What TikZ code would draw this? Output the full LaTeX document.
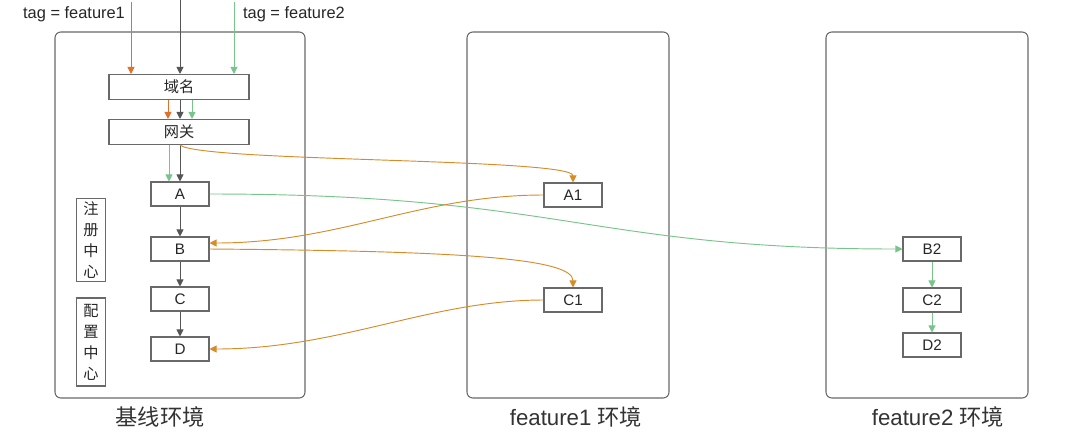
\documentclass[tikz,border=0pt]{standalone}
\usepackage{fontspec}
\setmainfont{Liberation Sans}
\newfontfamily\cjk{Noto Sans CJK SC}
\usepackage{tikz}
\usetikzlibrary{positioning, arrows.meta, calc}
\definecolor{lngray}{RGB}{85,85,85}
\definecolor{bxgray}{RGB}{105,105,105}
\definecolor{tagorg}{RGB}{226,112,38}
\definecolor{crvorg}{RGB}{214,140,40}
\definecolor{taggrn}{RGB}{120,196,138}
\tikzset{
  envbox/.style  = {draw=bxgray, line width=0.9pt, rounded corners=5pt},
  svcbox/.style  = {draw=bxgray, line width=0.9pt, fill=white,
                    minimum width=17.4mm, minimum height=7.2mm,
                    inner sep=0pt, text=black!85,
                    font=\fontsize{13}{15}\selectfont},
  gwbox/.style   = {svcbox, minimum width=42mm, minimum height=7.5mm,
                    font=\fontsize{13}{15}\selectfont\cjk},
  vbox/.style    = {draw=bxgray, line width=0.9pt, minimum width=8.7mm,
                    inner sep=0pt, align=center, text=black!85,
                    font=\fontsize{13}{18}\selectfont\cjk},
  envlabel/.style = {font=\fontsize{19}{21}\selectfont, text=black!80},
  taglabel/.style = {font=\fontsize{14}{16}\selectfont, text=black!85},
  grayarr/.style = {-{Triangle[width=6pt,length=6pt]}, line width=0.8pt, lngray},
  orgarr/.style  = {-{Triangle[width=6pt,length=6pt]}, line width=0.8pt, tagorg},
  crvarr/.style  = {-{Triangle[width=6pt,length=6pt]}, line width=0.8pt, crvorg},
  grnarr/.style  = {-{Triangle[width=6pt,length=6pt]}, line width=0.8pt, taggrn},
}
\begin{document}
\begin{tikzpicture}[x=0.3mm, y=-0.3mm]
  \useasboundingbox (0,0) rectangle (1080,431);
  % environments
  \draw[envbox] (55,32) rectangle (305,398);
  \draw[envbox] (467,32) rectangle (669,398);
  \draw[envbox] (826,32) rectangle (1028,398);
  \node[envlabel] (lbase) at (160,417) {\cjk 基线环境};
  \node[envlabel] (lfeat1) at (576,417) {feature1 {\cjk 环境}};
  \node[envlabel] (lfeat2) at (938,417) {feature2 {\cjk 环境}};

  % baseline services
  \node[gwbox] (dns) at (179,87) {域名};
  \node[gwbox] (gw) at (179,132) {网关};
  \node[svcbox] (a) at (180,194) {A};
  \node[svcbox] (b) at (180,249) {B};
  \node[svcbox] (c) at (180,299) {C};
  \node[svcbox] (d) at (180,349) {D};
  \node[vbox, minimum height=24.9mm] (reg) at (91,240) {注\\册\\中\\心};
  \node[vbox, minimum height=26.4mm] (cfg) at (91,342) {配\\置\\中\\心};

  % feature envs
  \node[svcbox] (a1) at (573,195) {A1};
  \node[svcbox] (c1) at (573,300) {C1};
  \node[svcbox] (b2) at (932,249) {B2};
  \node[svcbox] (c2) at (932,300) {C2};
  \node[svcbox] (d2) at (932,345) {D2};

  % incoming traffic
  \coordinate (inorg) at (131,2);
  \coordinate (ingry) at (180,0);
  \coordinate (ingrn) at (234,2);
  \node[taglabel, anchor=east] (tag1) at (129,14) {tag = feature1};
  \node[taglabel, anchor=west] (tag2) at (239,14) {tag = feature2};
  \draw[orgarr] (inorg) -- (inorg |- dns.north);
  \draw[grayarr] (ingry) -- (ingry |- dns.north);
  \draw[grnarr] (ingrn) -- (ingrn |- dns.north);

  \draw[orgarr] ($(dns.south)+(-11,0)$) -- ($(gw.north)+(-11,0)$);
  \draw[grayarr] ($(dns.south)+(1,0)$) -- ($(gw.north)+(1,0)$);
  \draw[grnarr] ($(dns.south)+(13,0)$) -- ($(gw.north)+(13,0)$);

  \draw[grnarr] ($(gw.south)+(-10,0)$) -- ($(a.north)+(-11,0)$);
  \draw[grayarr] ($(gw.south)+(1,0)$) -- (a.north);
  \draw[grayarr] (a) -- (b);
  \draw[grayarr] (b) -- (c);
  \draw[grayarr] (c) -- (d);
  \draw[grnarr] (b2) -- (c2);
  \draw[grnarr] (c2) -- (d2);

  % cross-environment calls
  \draw[crvarr] ($(gw.south)+(1,0)$) .. controls (200,162) and (573,158) .. (a1.north);
  \draw[grnarr] (a.east) .. controls (560,194) and (590,249) .. (b2.west);
  \draw[crvarr] (a1.west) .. controls (420,195) and (340,243) .. ($(b.east)+(0,-6)$);
  \draw[crvarr] (b.east) .. controls (460,251) and (573,258) .. (c1.north);
  \draw[crvarr] (c1.west) .. controls (430,300) and (340,349) .. (d.east);
\end{tikzpicture}
\end{document}
